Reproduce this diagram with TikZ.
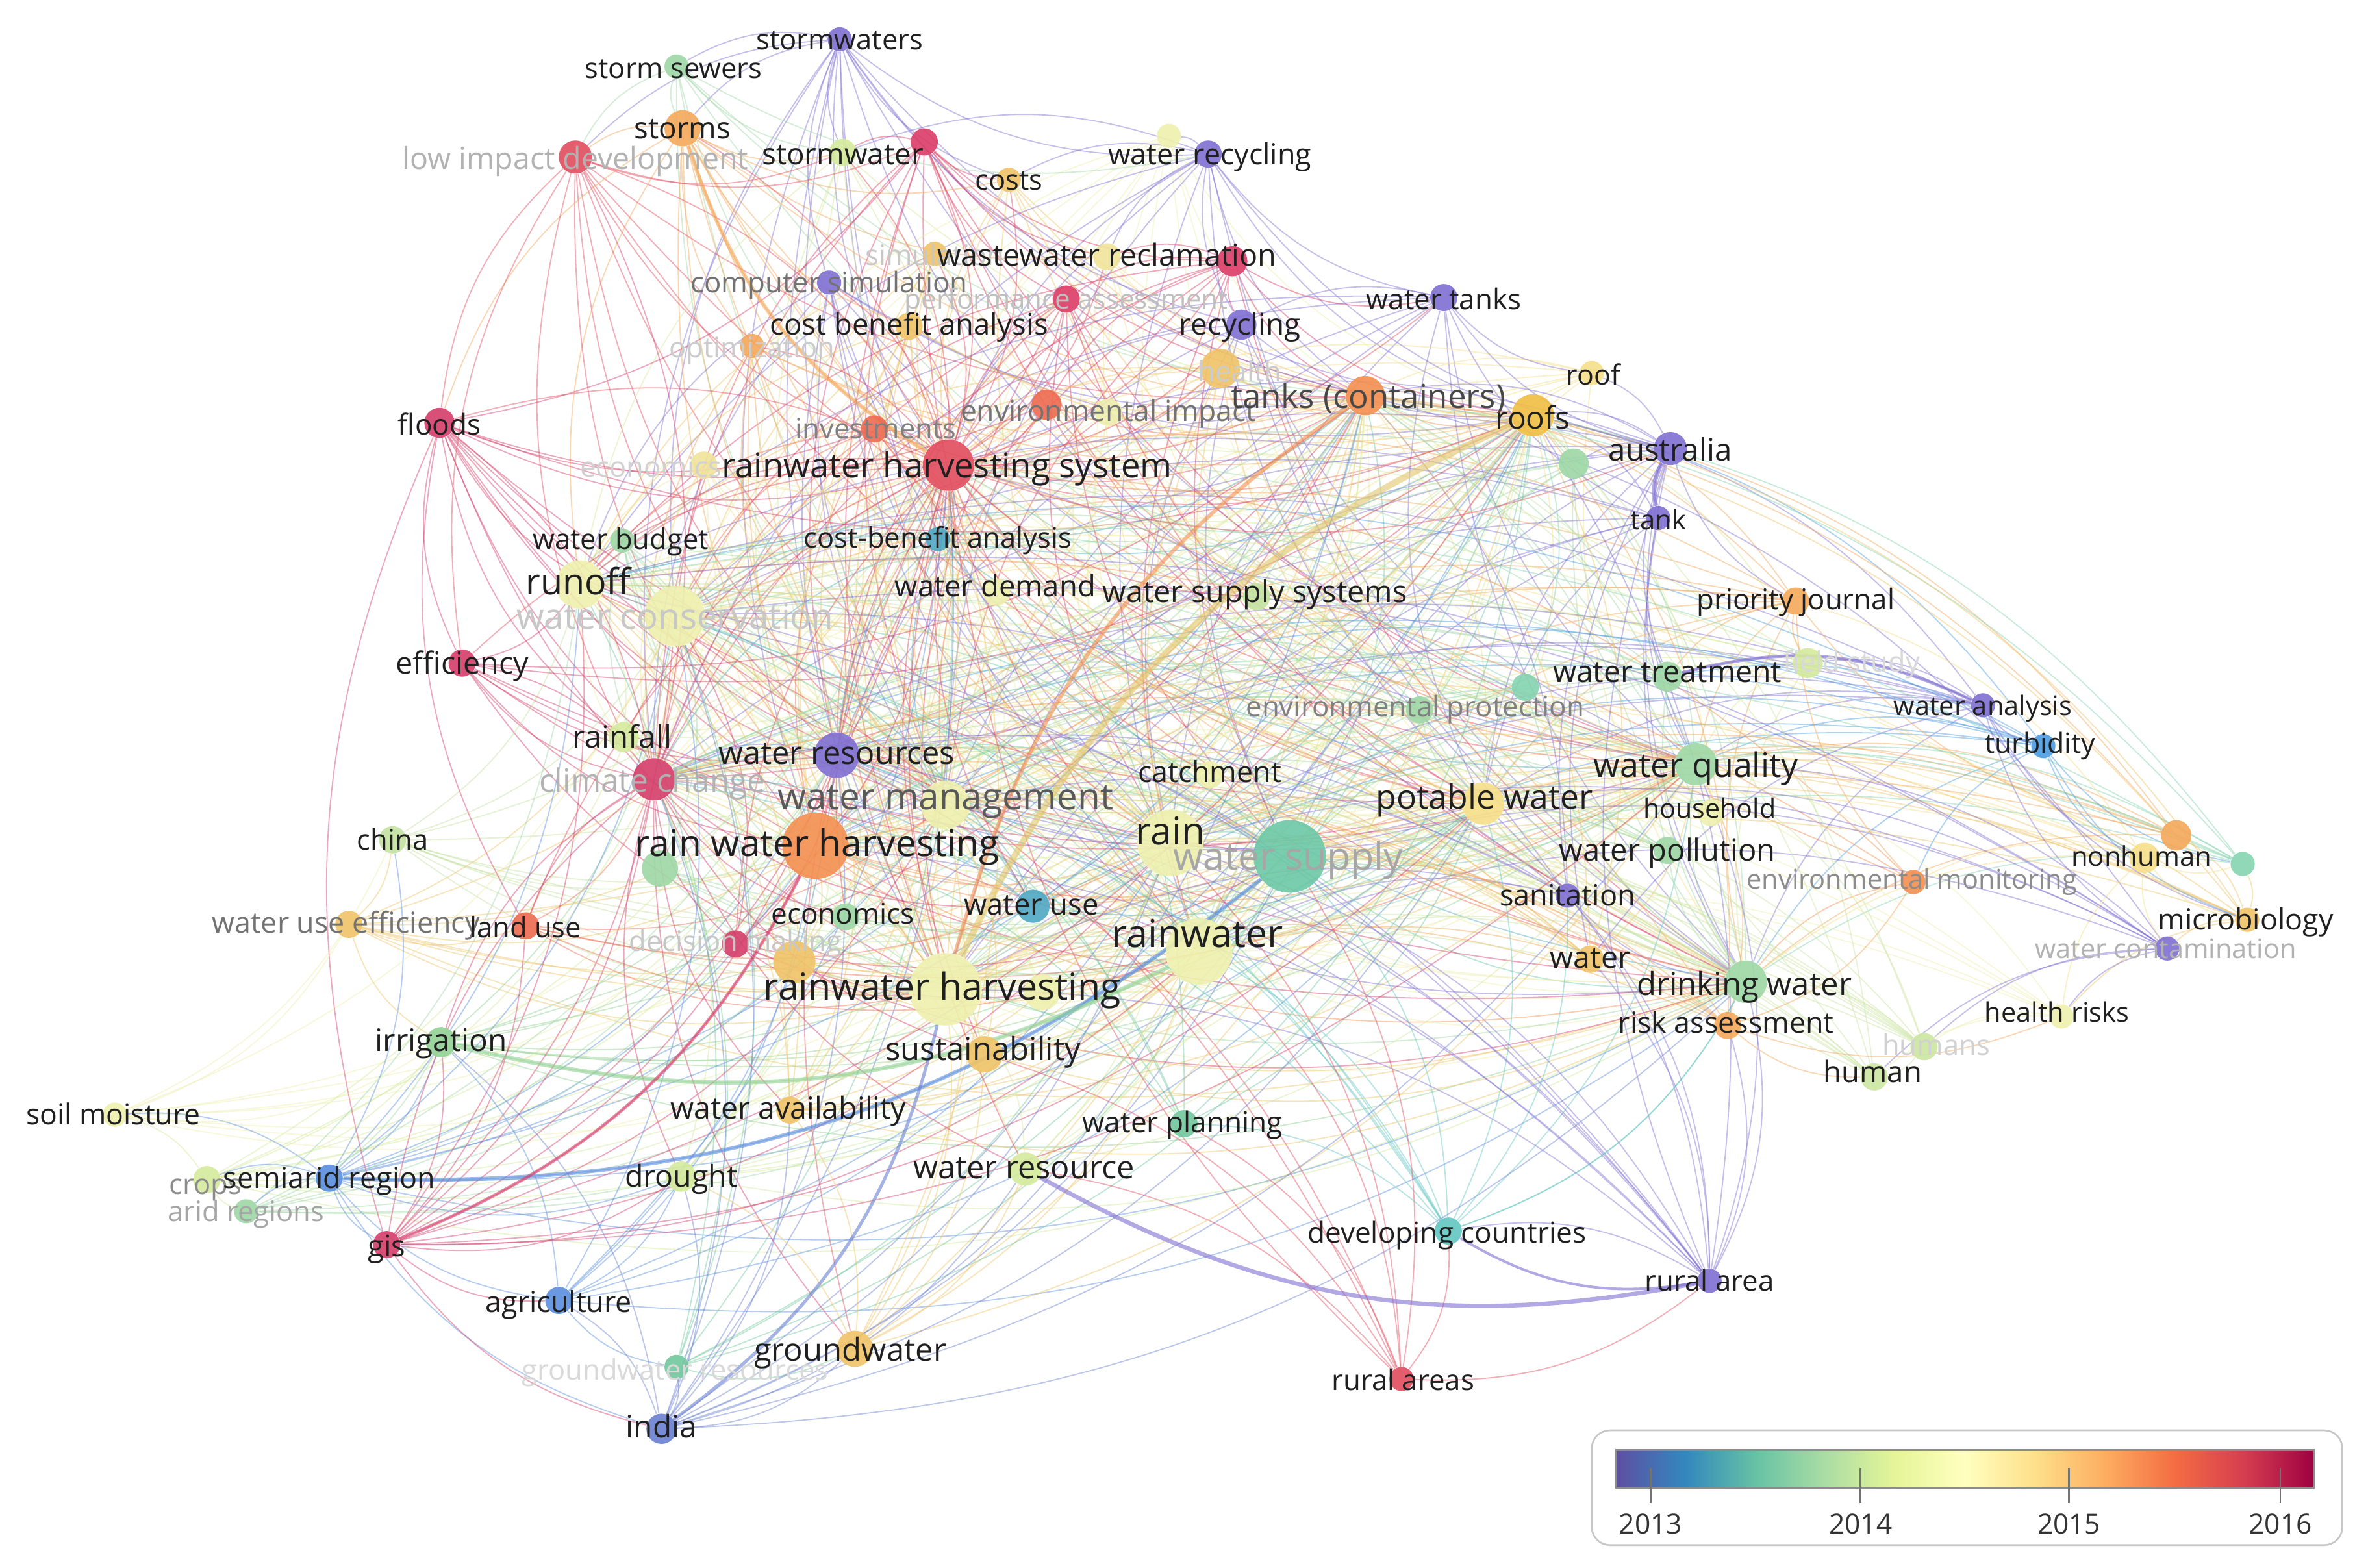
\documentclass[tikz,border=0pt]{standalone}
\usepackage{fontspec}
\setmainfont{Open Sans}
\usetikzlibrary{backgrounds}

% node colours (overlay scale 2013 -- 2016)
\definecolor{cpur}{HTML}{7F6FD2}
\definecolor{cblue}{HTML}{4C9CE0}
\definecolor{cblue2}{HTML}{5A8EDE}
\definecolor{cblue3}{HTML}{6A80D2}
\definecolor{cteal}{HTML}{4FA8C4}
\definecolor{cteal2}{HTML}{6CC8A6}
\definecolor{cteal3}{HTML}{84D4B0}
\definecolor{cteal4}{HTML}{72C89E}
\definecolor{cteal5}{HTML}{62C6C2}
\definecolor{cgrn}{HTML}{9ED8A6}
\definecolor{cgrn3}{HTML}{C4E2A0}
\definecolor{cgrn5}{HTML}{92D294}
\definecolor{cyg}{HTML}{D4EA9C}
\definecolor{cyg2}{HTML}{CCE6A2}
\definecolor{cpale}{HTML}{EEF0AE}
\definecolor{cpale2}{HTML}{F0E49A}
\definecolor{cyel}{HTML}{F6DF8A}
\definecolor{cgold}{HTML}{F0C468}
\definecolor{cgold2}{HTML}{F0BE44}
\definecolor{cthick}{HTML}{E2C66C}
\definecolor{corg}{HTML}{F4A85A}
\definecolor{corg2}{HTML}{F39050}
\definecolor{cred3}{HTML}{EE6A50}
\definecolor{cred}{HTML}{E24C5E}
\definecolor{cred2}{HTML}{DC3C66}
\definecolor{cmag}{HTML}{D43E6A}

% spectral scale
\definecolor{sp0}{HTML}{5E4FA2}
\definecolor{sp1}{HTML}{3288BD}
\definecolor{sp2}{HTML}{66C2A5}
\definecolor{sp3}{HTML}{ABDDA4}
\definecolor{sp4}{HTML}{E6F598}
\definecolor{sp5}{HTML}{FFFFBF}
\definecolor{sp6}{HTML}{FEE08B}
\definecolor{sp7}{HTML}{FDAE61}
\definecolor{sp8}{HTML}{F46D43}
\definecolor{sp9}{HTML}{D53E4F}
\definecolor{sp10}{HTML}{9E0142}
\pgfdeclarehorizontalshading{spectral}{100bp}{color(0bp)=(sp0); color(25bp)=(sp0);
  color(30bp)=(sp1); color(35bp)=(sp2); color(40bp)=(sp3); color(45bp)=(sp4);
  color(50bp)=(sp5); color(55bp)=(sp6); color(60bp)=(sp7); color(65bp)=(sp8);
  color(70bp)=(sp9); color(75bp)=(sp10); color(100bp)=(sp10)}

\begin{document}
\begin{tikzpicture}[x=0.025cm,y=-0.025cm,
    dot/.style={circle,inner sep=0pt,minimum size=#1*0.05cm,fill opacity=0.9},
    lbl/.style={font=\fontsize{#1}{#1}\selectfont,text=black!88,inner sep=0pt,anchor=mid,
      yshift=-0.21*#1pt},
    link/.style={line width=0.55pt,draw opacity=0.45,bend right=20},
    strong/.style={line width=#1,draw opacity=0.6,bend right=20}]
  \useasboundingbox (0,0) rectangle (1568,1038);

  % keywords
  \foreach \id/\x/\y/\r/\c in {
      stws/556/26/8/cpur, stse/448/44/8/cgrn, stms/452/85/12/corg, lid/381/104/11/cred,
      stw/558/101/9/cyg, rd1/612/94/9/cred2, cost/668/119/8/cgold, pl1/774/90/8/cpale,
      wrec/800/102/9/cpur, sim/619/168/8/cgold, wwr/733/170/9/cpale2, rd2/816/173/10/cred2,
      csim/549/187/8/cpur, pa/706/198/9/cred2, cba/602/216/9/cgold, recy/822/215/10/cpur,
      wt/956/197/9/cpur, opt/498/229/8/corg, hlth/808/244/13/cgold, tc/904/262/13/corg2,
      roofs/1015/275/14/cgold2, roof/1054/247/8/cyel, aus/1106/297/11/cpur, gr1/1042/307/10/cgrn,
      tank/1098/343/8/cpur, fl/291/280/10/cmag, inv/579/284/9/cred3, ei1/693/268/10/cred3,
      ei/734/273/9/cpale, eco1/466/308/9/cpale2, rwhs/628/308/17/cred, wb/412/358/8/cgrn,
      cbaa/621/357/8/cteal, ro/384/387/16/cpale, wc/447/408/20/cpale, wd/660/392/9/cpale,
      wss/832/395/9/cgrn3, pj/1189/398/9/corg, wtr/1104/448/10/cgrn, fs/1197/439/10/cyg,
      gr2/1010/455/9/cteal3, ep/940/470/9/cgrn, wan/1313/467/8/cpur, turb/1353/494/8/cblue,
      eff/306/439/9/cmag, rf/413/488/10/cyg, wres/554/500/15/cpur, cc/433/516/14/cmag,
      wm/626/533/16/cpale, catch/801/513/9/cpale, wq/1123/506/14/cgrn, hh/1133/538/9/cpale,
      pw/982/532/14/cyel, rawh/540/560/22/corg2, gr3/437/575/12/cgrn, china/260/556/9/cgrn3,
      rain/775/558/22/cpale, ws/854/567/24/cteal2, wp/1104/563/9/cgrn, nh/1420/568/10/cyel,
      or1/1441/553/10/corg, te1/1485/572/8/cteal3, em/1267/584/8/corg2, san/1038/593/8/cpur,
      wue/231/612/9/cgold, lu/348/613/9/cred3, econ/560/607/9/cgrn, dm/487/625/9/cmag,
      wu/684/600/11/cteal, rw/794/630/22/cpale, water/1053/635/9/cgold, mic/1488/609/8/cgold,
      wcon/1435/628/8/cpur, dw/1156/650/14/cgrn, rwh/626/655/24/cpale, yo1/526/637/14/cgold,
      pl2/690/657/12/cpale, ra/1144/679/9/corg, hr/1365/673/8/cpale, hmns/1274/693/9/cyg2,
      hum/1241/713/9/cyg2, irr/292/690/10/cgrn5, sus/652/698/12/cgold, wav/523/735/9/cgold,
      sm/76/738/8/cpale, wpl/784/744/9/cteal4, crops/137/781/9/cyg, semi/218/780/9/cblue2,
      arid/163/802/8/cgrn, dr/451/779/10/cyg, wr/679/774/11/cyg, gis/256/824/9/cmag,
      dc/959/815/9/cteal5, ruar/1132/848/8/cpur, agr/370/861/9/cblue2, gw/566/893/12/cgold,
      gwr/448/905/8/cteal4, rura/928/913/8/cred, india/438/946/10/cblue3}
    \node[dot=\r,fill=\c] (\id) at (\x,\y) {};

  \begin{pgfonlayer}{background}
    \fill[white] (0,0) rectangle (1568,1038);
    % links between the main terms
    \foreach \a/\ca [count=\i] in {rwh/cpale, rawh/corg2, ws/cteal2, rw/cpale, rain/cpale,
        wm/cpale, wc/cpale, rwhs/cred, ro/cpale, wres/cpur, pw/cyel, wq/cgrn, dw/cgrn,
        cc/cmag, tc/corg2, roofs/cgold2}
      \foreach \b [count=\j] in {rwh, rawh, ws, rw, rain, wm, wc, rwhs, ro, wres, pw, wq,
          dw, cc, tc, roofs}
        {\ifnum\j>\i \draw[link,draw=\ca] (\a) to (\b);\fi}
    % links from the other terms to the main ones
    \pgfmathsetseed{2016}
    \foreach \n/\c in {stws/cpur, stse/cgrn, stms/corg, lid/cred, stw/cyg, rd1/cred2,
        cost/cgold, pl1/cpale, wrec/cpur, sim/cgold, wwr/cpale2, rd2/cred2, csim/cpur,
        pa/cred2, cba/cgold, recy/cpur, wt/cpur, opt/corg, hlth/cgold, roof/cyel, aus/cpur,
        gr1/cgrn, tank/cpur, fl/cmag, inv/cred3, ei1/cred3, ei/cpale, eco1/cpale2, wb/cgrn,
        cbaa/cteal, wd/cpale, wss/cgrn3, pj/corg, wtr/cgrn, fs/cyg, gr2/cteal3, ep/cgrn,
        wan/cpur, turb/cblue, eff/cmag, rf/cyg, catch/cpale, hh/cpale, gr3/cgrn, china/cgrn3,
        wp/cgrn, nh/cyel, or1/corg, te1/cteal3, em/corg2, san/cpur, wue/cgold, lu/cred3,
        econ/cgrn, dm/cmag, wu/cteal, water/cgold, mic/cgold, wcon/cpur, yo1/cgold,
        pl2/cpale, ra/corg, hr/cpale, hmns/cyg2, hum/cyg2, irr/cgrn5, sus/cgold, wav/cgold,
        sm/cpale, wpl/cteal4, crops/cyg, semi/cblue2, arid/cgrn, dr/cyg, wr/cyg, gis/cmag,
        dc/cteal5, ruar/cpur, agr/cblue2, gw/cgold, gwr/cteal4, rura/cred, india/cblue3}
      \foreach \h in {rwh, rawh, ws, rw, rain, wm, wc, rwhs, ro, wres, pw, wq, dw, cc, tc, roofs}
        {\pgfmathrandominteger{\k}{1}{100}
         \ifnum\k<58 \draw[link,draw=\c] (\n) to (\h);\fi}
    % links inside the clusters
    \foreach \a/\b/\c in {stws/stse/cpur, stws/stms/cpur, stws/stw/cpur, stws/csim/cpur,
        stws/wrec/cpur, stws/recy/cpur, stws/cost/cpur, stws/wss/cpur, stws/lid/cpur,
        stws/tc/cpur, stse/stms/cgrn, stse/lid/cgrn, stse/stw/cgrn, stse/wrec/cgrn,
        stms/lid/corg, stms/stw/corg, stms/cost/corg, stms/wwr/corg, stms/opt/corg,
        stms/cba/corg, stms/fl/corg, wrec/recy/cpur, wrec/wt/cpur, wrec/wwr/cpur,
        wrec/pl1/cpur, wrec/stw/cpur, wrec/aus/cpur, wrec/cost/cpur, wt/aus/cpur,
        wt/tank/cpur, wt/roof/cpur, wt/recy/cpur, aus/tank/cpur, aus/roof/cpur,
        aus/gr1/cpur, aus/wtr/cpur, aus/water/cpur, aus/san/cpur, aus/pj/cpur,
        aus/ruar/cpur, lid/fl/cred, lid/stw/cred, lid/rd1/cred, lid/rf/cred, lid/eff/cred,
        fl/eff/cmag, fl/rf/cmag, fl/lu/cmag, fl/gis/cmag, fl/inv/cmag, fl/ei1/cmag,
        fl/rd1/cmag, rd1/stw/cred2, rd1/cost/cred2, rd1/wwr/cred2, rd1/pa/cred2,
        rd1/rd2/cred2, rd2/recy/cred2, rd2/wwr/cred2, rd2/pa/cred2, rd2/ei1/cred2,
        rd2/wt/cred2, wan/turb/cpur, wan/wtr/cpur, wan/fs/cpur, wan/nh/cpur, wan/mic/cpur,
        wan/wcon/cpur, wan/water/cpur, turb/nh/cblue, turb/mic/cblue, turb/wtr/cblue,
        turb/te1/cblue, turb/em/cblue, nh/or1/cyel, nh/te1/cyel, nh/mic/cyel, nh/em/cyel,
        nh/hr/cyel, nh/wcon/cyel, nh/pj/cyel, mic/wcon/cgold, mic/hr/cgold, mic/or1/cgold,
        mic/te1/cgold, wcon/hr/cpur, wcon/hum/cpur, wcon/hmns/cpur, pj/fs/corg,
        pj/or1/corg, pj/wtr/corg, pj/em/corg, hr/hum/cpale, hr/hmns/cpale, hum/hmns/cyg2,
        ra/hr/corg, ra/hum/corg, ra/em/corg, semi/crops/cblue2, semi/arid/cblue2,
        semi/irr/cblue2, semi/agr/cblue2, semi/india/cblue2, semi/dr/cblue2,
        semi/gis/cblue2, semi/sm/cblue2, semi/china/cblue2, crops/arid/cyg, crops/sm/cyg,
        crops/irr/cyg, arid/irr/cgrn, sm/irr/cpale, sm/wue/cpale, sm/china/cpale,
        gis/irr/cmag, gis/india/cmag, gis/agr/cmag, gis/dr/cmag, gis/lu/cmag,
        india/agr/cblue3, india/gw/cblue3, india/gwr/cblue3, india/dr/cblue3,
        india/wr/cblue3, india/irr/cblue3, india/wav/cblue3, agr/irr/cblue2,
        agr/dr/cblue2, agr/gwr/cblue2, gwr/gw/cteal4, gw/wr/cgold, gw/dr/cgold,
        gw/wav/cgold, gw/sus/cgold, wue/irr/cgold, wue/china/cgold, wue/lu/cgold,
        rura/dc/cred, rura/ruar/cred, rura/wpl/cred, rura/wr/cred, rura/sus/cred,
        ruar/dc/cpur, ruar/dw/cpur, ruar/water/cpur, ruar/ra/cpur, ruar/san/cpur,
        dc/wpl/cteal5, dc/dw/cteal5, dc/san/cteal5}
      \draw[link,draw=\c] (\a) to (\b);
    % red fan of the rainwater harvesting system
    \foreach \b in {lid, stms, stw, rd1, cost, wwr, rd2, pa, cba, recy, opt, inv, ei1, ei,
        fl, eff, wb, cbaa, wd, wss, csim, sim, hlth, wt, aus, econ, dm, lu, wu, catch, rf,
        sus, gw, wr, rura}
      \draw[link,draw=cred] (rwhs) to (\b);
    \foreach \b in {fl, eff, lid, gis, irr, lu, dm, rf, wav, dr, sus, wr, gw, econ, wu}
      \draw[link,draw=cmag] (cc) to (\b);
    % heavy links
    \draw[strong=3pt,draw=cthick] (roofs) to (rwh);
    \draw[strong=1.8pt,draw=cblue2] (semi) to (ws);
    \draw[strong=2pt,draw=cgrn5] (irr) to (rw);
    \draw[strong=1.5pt,draw=cmag] (gis) to (rawh);
    \draw[strong=1.5pt,draw=cblue3] (india) to (rwh);
    \draw[strong=2pt,draw=cpur] (wr) to (ruar);
    \draw[strong=1.2pt,draw=cpur] (dc) to (ruar);
    \draw[strong=1.5pt,draw=cpur] (wan) to (wtr);
    \draw[strong=1.8pt,draw=corg2] (tc) to (rwh);
    \draw[strong=1.8pt,draw=corg] (stms) to (rwhs);
    \draw[strong=2pt,draw=cpur] (aus) to (tank);
  \end{pgfonlayer}

  % faded labels
  \foreach \id/\x/\y/\s/\g/\t in {
      lid/381/104/14.2/30/low impact development, sim/619/168/13.3/22/simulation,
      csim/549/186/13.4/55/computer simulation, pa/706/197/12.9/25/performance assessment,
      opt/498/229/13.3/20/optimization, hlth/821/245/13.3/20/health,
      ei/734/271/13.6/55/environmental impact, inv/580/283/13.3/50/investments,
      eco1/431/308/13.3/18/economics, wc/447/408/16.7/22/water conservation,
      fs/1226/437/13.3/15/field study, ep/937/467/13.4/50/environmental protection,
      cc/432/516/15.2/30/climate change, ws/853/567/18.1/35/water supply,
      em/1266/581/12.7/45/environmental monitoring, wue/229/610/13.7/55/water use efficiency,
      dm/487/622/13.3/22/decision making, wcon/1434/627/12.7/30/water contamination,
      hmns/1282/691/13.3/18/humans, crops/136/783/13.3/45/crops,
      arid/163/801/13.3/35/arid regions, gwr/447/906/13.3/15/groundwater resources}
    \node[lbl=\s,text=black!\g] (\id-l) at (\x,\y) {\t};

  % labels
  \foreach \id/\x/\y/\s/\t in {
      stws/556/25/13.3/stormwaters, stse/446/44/13.3/storm sewers, stms/452/84/14/storms,
      stw/558/101/14/stormwater, cost/668/118/13.3/costs, wrec/801/101/13.7/water recycling,
      wwr/733/168/14.3/wastewater reclamation, cba/602/214/13.9/cost benefit analysis,
      recy/821/214/14/recycling, wt/956/197/13.4/water tanks, roofs/1015/276/14.6/roofs,
      roof/1055/247/13.1/roof, aus/1106/297/14.5/australia, tank/1098/343/12.8/tank,
      fl/291/280/13.5/floods, rwhs/627/308/16.1/rainwater harvesting system,
      wb/411/356/13.3/water budget, cbaa/621/355/13.3/cost-benefit analysis,
      ro/383/385/17/runoff, wd/659/387/13.9/water demand,
      wss/831/391/14.3/water supply systems, pj/1189/396/13.4/priority journal,
      wtr/1104/444/14.2/water treatment, wan/1313/466/12.7/water analysis,
      turb/1351/491/13.1/turbidity, eff/306/438/14.3/efficiency, rf/412/487/14.5/rainfall,
      wres/554/498/14.9/water resources, catch/801/510/13.7/catchment,
      wq/1123/506/15.9/water quality, hh/1132/534/12.6/household,
      pw/983/527/15.8/potable water, rawh/541/558/17.4/rain water harvesting,
      china/260/555/13.3/china, rain/775/550/18/rain, wp/1104/562/14.4/water pollution,
      nh/1418/566/12.8/nonhuman, san/1038/592/13.8/sanitation, lu/348/613/13.3/land use,
      econ/558/604/13.5/economics, wu/683/598/13.9/water use, rw/793/618/18.1/rainwater,
      water/1053/633/14.2/water, mic/1487/608/13.7/microbiology,
      dw/1155/651/15/drinking water, rwh/624/653/17.5/rainwater harvesting,
      ra/1143/676/13.7/risk assessment, hr/1362/669/12.7/health risks,
      hum/1240/709/13.9/human, irr/292/688/14.6/irrigation, sus/651/694/15/sustainability,
      wav/522/733/14.2/water availability, sm/75/737/13.6/soil moisture,
      wpl/783/742/13.5/water planning, semi/218/779/13.7/semiarid region,
      dr/451/778/14.2/drought, wr/678/772/14.9/water resource, gis/256/824/13.9/gis,
      dc/958/815/13.5/developing countries, ruar/1132/847/13.4/rural area,
      agr/370/861/13.7/agriculture, gw/563/893/15/groundwater,
      rura/929/913/13.4/rural areas, india/438/944/14.6/india}
    \node[lbl=\s] (\id-l) at (\x,\y) {\t};
  \node[lbl=15.6,text=black!72] (tc-l) at (906,262) {tanks (containers)};
  \node[lbl=17.3,text=black!65] (wm-l) at (626,527) {water management};

  % colour scale
  \draw[black!22,line width=0.8pt,rounded corners=0.3cm] (1054,947) rectangle (1551,1023);
  \shade[shading=spectral,draw=black!45,line width=0.8pt] (1070,960) rectangle (1532,985);
  \foreach \yr/\x in {2013/1093, 2014/1232, 2015/1370, 2016/1510} {
    \draw[black!55,line width=0.8pt] (\x,972) -- (\x,995);
    \node[lbl=13,text=black!80] (y\yr) at (\x,1008) {\yr};
  }
\end{tikzpicture}
\end{document}
